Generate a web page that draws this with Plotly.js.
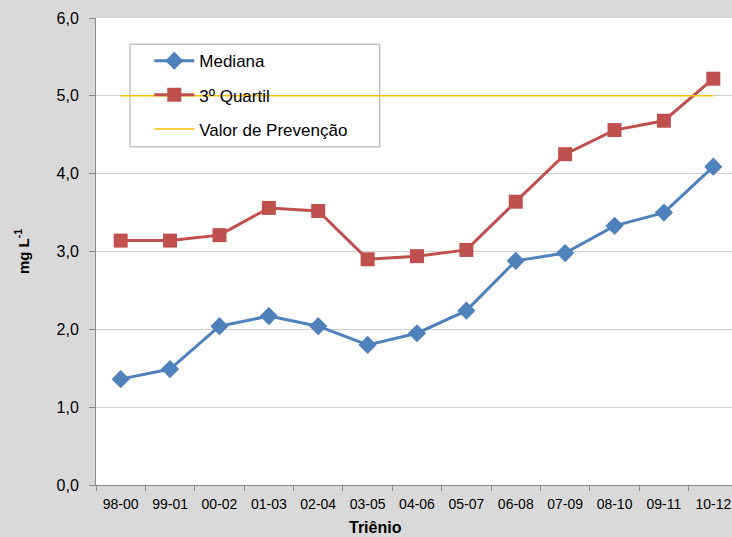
<!DOCTYPE html>
<html><head><meta charset="utf-8">
<script src="https://cdn.plot.ly/plotly-3.0.1.min.js"></script>
<style>html,body{margin:0;padding:0;overflow:hidden;background:#d9d9d9;}#chart{width:738px;height:537px;}</style>
</head><body><div id="chart"></div>
<script>
const categories = ["98-00","99-01","00-02","01-03","02-04","03-05","04-06","05-07","06-08","07-09","08-10","09-11","10-12"];
const mediana = [1.36,1.49,2.04,2.17,2.04,1.80,1.95,2.24,2.88,2.98,3.33,3.50,4.09];
const quartil3 = [3.14,3.14,3.21,3.56,3.52,2.90,2.94,3.02,3.64,4.25,4.56,4.68,5.22];
const prevencao = categories.map(() => 5.0);

const font = "'Liberation Sans', Arial, sans-serif";
const traces = [
  {x: categories, y: mediana, name: "Mediana", type: "scatter", mode: "lines+markers",
   line: {color: "#4F81BD", width: 3}, marker: {symbol: "diamond", size: 14, color: "#4F81BD"}, legendgroup: "a"},
  {x: categories, y: quartil3, name: "3º Quartil", type: "scatter", mode: "lines+markers",
   line: {color: "#C0504D", width: 3}, marker: {symbol: "square", size: 14, color: "#C0504D"}, legendgroup: "b"},
  {x: categories, y: prevencao, name: "Valor de Prevenção", type: "scatter", mode: "lines",
   line: {color: "#FFC000", width: 1.5}, legendgroup: "c"}
];
const layout = {
  width: 738, height: 537,
  margin: {l: 96, r: 0, t: 18, b: 52},
  paper_bgcolor: "#d9d9d9", plot_bgcolor: "#ffffff",
  font: {family: font, size: 13, color: "#000"},
  separators: ",.",
  showlegend: true,
  legend: {x: 0.083, y: 0.946, xanchor: "left", yanchor: "top", bgcolor: "rgba(0,0,0,0)",
    borderwidth: 0, font: {family: font, size: 17}, tracegroupgap: 9, itemwidth: 40},
  xaxis: {type: "category", showline: true, linecolor: "#888888", linewidth: 1,
    ticks: "outside", tickcolor: "#888888", ticklen: 5, tickson: "boundaries",
    showgrid: false, tickfont: {size: 14}, ticklabelstandoff: 6, range: [-0.5, 12.5], fixedrange: true},
  yaxis: {range: [0, 6], dtick: 1, tickformat: ".1f", showline: true, linecolor: "#888888",
    ticks: "outside", tickcolor: "#888888", ticklen: 6, gridcolor: "#d0d0d0", zeroline: false,
    tickfont: {size: 16}, ticklabelstandoff: 7,
    title: {text: "<b>mg L<sup>-1</sup></b>", font: {size: 15}, standoff: 23}},
  shapes: [{type: "rect", xref: "paper", yref: "paper", x0: 0.053, x1: 0.442, y0: 0.724, y1: 0.944,
    line: {color: "#a6a6a6", width: 1}, fillcolor: "#ffffff", layer: "below"}],
  annotations: [{text: "<b>Triênio</b>", xref: "paper", yref: "paper", x: 0.436, y: 0, yshift: -32,
    xanchor: "center", yanchor: "top", showarrow: false, font: {size: 16}}]
};
Plotly.newPlot("chart", traces, layout, {displayModeBar: false, staticPlot: true});
</script></body></html>
